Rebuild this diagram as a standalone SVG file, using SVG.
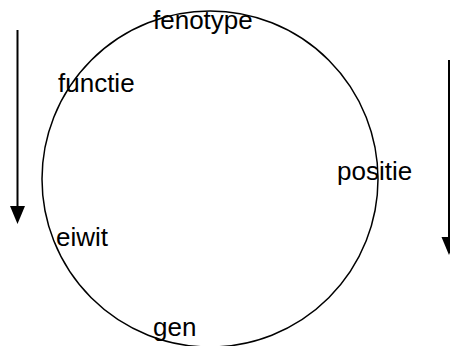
<svg xmlns="http://www.w3.org/2000/svg" width="450" height="346" viewBox="0 0 450 346">
  <style>
    .ring { fill: none; stroke: #000; stroke-width: 1.5; }
    .flow { stroke: #000; stroke-width: 2; fill: none; }
    .head { fill: #000; }
    .lbl { font-family: "Liberation Sans", Arial, sans-serif; font-size: 26px; fill: #000; }
  </style>
  <rect width="450" height="346" fill="#fff"/>

  <g id="cycle">
    <circle class="ring" cx="210" cy="179" r="168"/>
  </g>

  <g id="connectors">
    <!-- left downward arrow -->
    <line class="flow" x1="17.5" y1="30" x2="17.5" y2="208"/>
    <polygon class="head" points="10,206 25,206 17.5,224"/>
    <!-- right downward arrow, partly outside the frame -->
    <line class="flow" x1="449" y1="60" x2="449" y2="240"/>
    <polygon class="head" points="441.5,237 456.5,237 449,255"/>
  </g>

  <g id="fenotype"><text class="lbl" x="153" y="29">fenotype</text></g>
  <g id="functie"><text class="lbl" x="58" y="92">functie</text></g>
  <g id="positie"><text class="lbl" x="337" y="180">positie</text></g>
  <g id="eiwit"><text class="lbl" x="56" y="246">eiwit</text></g>
  <g id="gen"><text class="lbl" x="153" y="336">gen</text></g>
</svg>
